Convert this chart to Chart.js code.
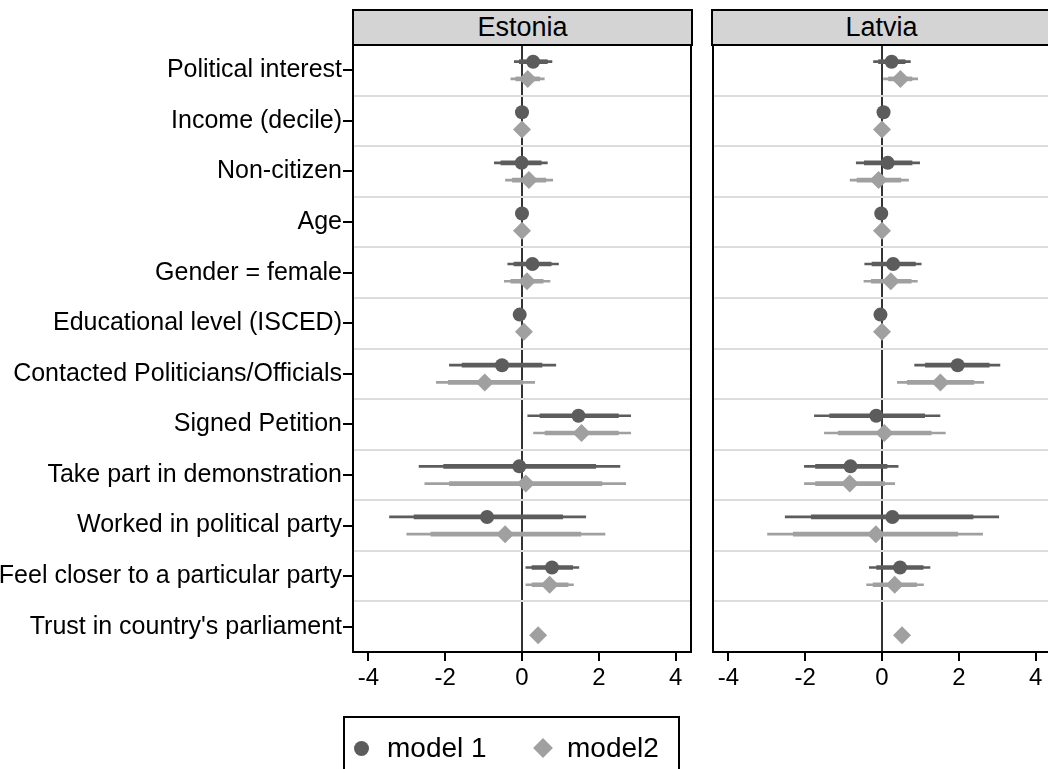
<!DOCTYPE html>
<html>
<head>
<meta charset="utf-8">
<script src="https://cdn.jsdelivr.net/npm/chart.js@4.4.1/dist/chart.umd.min.js"></script>
<style>
  html, body { margin:0; padding:0; background:#fff; width:1048px; height:769px; overflow:hidden; position:relative; }
  canvas { position:absolute; top:0; }
  #cEst { left:0; }
  #cLat { left:704px; }
  .strip { position:absolute; top:9px; height:37px; box-sizing:border-box; border:2px solid #000; background:#d4d4d4;
           font:27px "Liberation Sans", Arial, sans-serif; color:#000; text-align:center; line-height:33px; }
  #legend { position:absolute; left:343px; top:716px; width:337px; height:80px; box-sizing:border-box; border:2px solid #000;
            font:28px "Liberation Sans", Arial, sans-serif; color:#000; }
  #legend span { position:absolute; }
  .circ { width:15px; height:15px; border-radius:50%; background:#5c5c5c; left:9px; top:23px; }
  .diam { width:14px; height:14px; background:#a0a0a0; transform:rotate(45deg); left:191px; top:23px; }
  .lt { top:14px; line-height:32px; }
</style>
</head>
<body>
<canvas id="cEst" width="700" height="769"></canvas>
<canvas id="cLat" width="356" height="769"></canvas>
<div class="strip" style="left:352px;width:341px;">Estonia</div>
<div class="strip" style="left:711px;width:341px;">Latvia</div>
<div id="legend">
  <span class="circ"></span><span class="lt" style="left:42px;">model 1</span>
  <span class="diam"></span><span class="lt" style="left:222px;">model2</span>
</div>
<script>
// variables, top to bottom
const labels = [
  'Political interest', 'Income (decile)', 'Non-citizen', 'Age', 'Gender = female',
  'Educational level (ISCED)', 'Contacted Politicians/Officials', 'Signed Petition',
  'Take part in demonstration', 'Worked in political party',
  'Feel closer to a particular party', "Trust in country's parliament"
];
const xTicks = [-4, -2, 0, 2, 4];

// Estonia, model 1 (estimate, 95% and 99% bounds)
const estM1 = [0.29, 0.00, -0.01, 0.00, 0.27, -0.06, -0.52, 1.47, -0.07, -0.91, 0.78, null];
const estM1lo95 = [-0.07, -0.02, -0.55, -0.01, -0.21, -0.14, -1.56, 0.47, -2.04, -2.81, 0.26, null];
const estM1hi95 = [0.66, 0.02, 0.50, 0.01, 0.76, 0.02, 0.52, 2.51, 1.92, 1.06, 1.32, null];
const estM1lo99 = [-0.20, -0.03, -0.72, -0.02, -0.37, -0.18, -1.89, 0.15, -2.68, -3.45, 0.10, null];
const estM1hi99 = [0.78, 0.03, 0.66, 0.02, 0.95, 0.06, 0.88, 2.83, 2.55, 1.66, 1.48, null];
// Estonia, model 2
const estM2 = [0.15, 0.00, 0.18, 0.00, 0.13, 0.05, -0.97, 1.55, 0.10, -0.44, 0.72, 0.42];
const estM2lo95 = [-0.16, -0.02, -0.25, -0.01, -0.29, 0.00, -1.92, 0.60, -1.89, -2.37, 0.26, 0.38];
const estM2hi95 = [0.46, 0.02, 0.62, 0.01, 0.55, 0.10, 0.02, 2.51, 2.08, 1.53, 1.20, 0.46];
const estM2lo99 = [-0.29, -0.03, -0.43, -0.02, -0.46, -0.02, -2.23, 0.30, -2.53, -3.00, 0.10, 0.36];
const estM2hi99 = [0.58, 0.03, 0.80, 0.02, 0.73, 0.12, 0.33, 2.83, 2.70, 2.16, 1.34, 0.48];

// Latvia, model 1
const latM1 = [0.25, 0.04, 0.15, -0.02, 0.29, -0.04, 1.97, -0.15, -0.82, 0.27, 0.47, null];
const latM1lo95 = [-0.09, 0.02, -0.46, -0.03, -0.26, -0.12, 1.13, -1.36, -1.73, -1.84, -0.14, null];
const latM1hi95 = [0.60, 0.06, 0.78, -0.01, 0.87, 0.04, 2.79, 1.11, 0.13, 2.37, 1.07, null];
const latM1lo99 = [-0.22, 0.01, -0.67, -0.04, -0.45, -0.16, 0.85, -1.76, -2.02, -2.52, -0.33, null];
const latM1hi99 = [0.74, 0.07, 0.98, 0.00, 1.02, 0.08, 3.07, 1.51, 0.42, 3.04, 1.25, null];
// Latvia, model 2
const latM2 = [0.48, 0.00, -0.09, 0.00, 0.23, 0.00, 1.52, 0.06, -0.84, -0.16, 0.33, 0.52];
const latM2lo95 = [0.17, -0.02, -0.65, -0.01, -0.28, -0.04, 0.66, -1.14, -1.73, -2.31, -0.23, 0.48];
const latM2hi95 = [0.78, 0.02, 0.49, 0.01, 0.76, 0.04, 2.39, 1.28, 0.07, 1.97, 0.90, 0.56];
const latM2lo99 = [0.04, -0.03, -0.83, -0.02, -0.47, -0.06, 0.40, -1.50, -2.02, -2.98, -0.40, 0.46];
const latM2hi99 = [0.93, 0.03, 0.69, 0.02, 0.92, 0.06, 2.65, 1.65, 0.33, 2.62, 1.08, 0.58];

const DARK = '#5c5c5c', LIGHT = '#a0a0a0';
const FONT = 'Liberation Sans, Arial, sans-serif';
const OFF = 0.17; // half distance between the two models inside a row

// row ticks: centers carry labels, half steps carry the grey separators
const rowTicks = [];
for (let i = 1; i <= labels.length; i++) {
  rowTicks.push(i);
  if (i < labels.length) rowTicks.push(i + 0.5);
}

function pts(est, off){
  return est.map((v,i)=> v === null ? null : {x: v, y: i + 1 + off}).filter(Boolean);
}
function bars(lo, hi, off){
  return lo.map((v,i)=> v === null ? null : {x: [v, hi[i]], y: i + 1 + off}).filter(Boolean);
}

// black frame round the plot region
const frame = {
  id: 'frame',
  afterDraw(chart){
    const {ctx, chartArea: a} = chart;
    ctx.save();
    ctx.strokeStyle = '#000';
    ctx.lineWidth = 2;
    ctx.strokeRect(a.left, a.top, a.right - a.left, a.bottom - a.top);
    ctx.restore();
  }
};

function makePanel(id, m1, m2, showLabels, padRight){
  const [e1, l95a, h95a, l99a, h99a] = m1;
  const [e2, l95b, h95b, l99b, h99b] = m2;
  return new Chart(document.getElementById(id), {
    type: 'bar',
    data: {
      datasets: [
        {type:'scatter', label:'model 1', data: pts(e1, -OFF), pointStyle:'circle', pointRadius:7,
         backgroundColor: DARK, borderWidth:0, order:1},
        {type:'scatter', label:'model2', data: pts(e2, OFF), pointStyle:'rectRot', pointRadius:9,
         backgroundColor: LIGHT, borderWidth:0, order:1},
        {data: bars(l95a, h95a, -OFF), backgroundColor: DARK, barThickness:4, grouped:false, borderWidth:0, order:2},
        {data: bars(l95b, h95b, OFF), backgroundColor: LIGHT, barThickness:4, grouped:false, borderWidth:0, order:2},
        {data: bars(l99a, h99a, -OFF), backgroundColor: DARK, barThickness:2, grouped:false, borderWidth:0, order:3},
        {data: bars(l99b, h99b, OFF), backgroundColor: LIGHT, barThickness:2, grouped:false, borderWidth:0, order:3}
      ]
    },
    options: {
      responsive:false,
      animation:false,
      events:[],
      indexAxis:'y',
      layout:{padding:{top:45, right:padRight, left:0, bottom:0}},
      plugins:{legend:{display:false}, tooltip:{enabled:false}},
      scales:{
        x:{
          type:'linear', min:-4.4, max:4.4, offset:false,
          afterBuildTicks: s => { s.ticks = xTicks.map(v => ({value:v})); },
          afterFit: s => { s.height = 117; },
          ticks:{color:'#000', font:{family:FONT, size:24}, padding:3, maxRotation:0, autoSkip:false},
          grid:{offset:false, color: c => (c.tick && c.tick.value === 0) ? '#333' : 'transparent', lineWidth:2,
                tickColor:'#000', tickLength:9},
          border:{display:false}
        },
        y:{
          type:'linear', reverse:true, min:0.5, max:labels.length + 0.5, offset:false,
          afterBuildTicks: s => { s.ticks = rowTicks.map(v => ({value:v})); },
          afterFit: s => { s.width = showLabels ? 353 : 8; },
          ticks:{display:showLabels, color:'#000', font:{family:FONT, size:25}, padding:1, autoSkip:false,
                 callback: v => Number.isInteger(v) ? labels[v - 1] : ''},
          grid:{offset:false, color: c => (c.tick && c.tick.value % 1) ? '#dcdcdc' : 'transparent', lineWidth:2,
                tickColor: c => (c.tick && c.tick.value % 1) ? 'transparent' : '#000',
                drawTicks:showLabels, tickLength: showLabels ? 10 : 0},
          border:{display:false}
        }
      }
    },
    plugins:[frame]
  });
}

makePanel('cEst',
  [estM1, estM1lo95, estM1hi95, estM1lo99, estM1hi99],
  [estM2, estM2lo95, estM2hi95, estM2lo99, estM2hi99], true, 8);
makePanel('cLat',
  [latM1, latM1lo95, latM1hi95, latM1lo99, latM1hi99],
  [latM2, latM2lo95, latM2hi95, latM2lo99, latM2hi99], false, 9);
</script>
</body>
</html>
